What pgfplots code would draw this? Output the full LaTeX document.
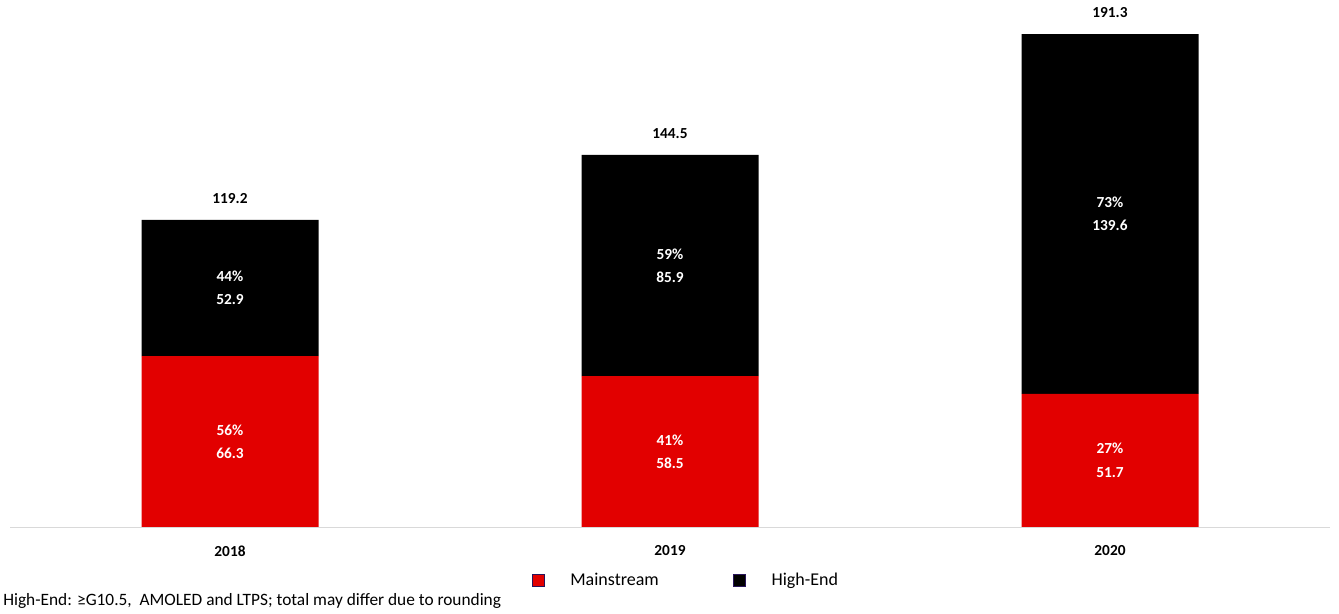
\documentclass[border=0pt]{standalone}
\usepackage{fontspec}
\setmainfont{Carlito}
\usepackage{pgfplots}
\pgfplotsset{compat=1.18}
\usepackage{pgfplotstable}
\definecolor{msred}{RGB}{226,0,0}
\definecolor{edgeblue}{RGB}{40,20,90}

\pgfplotstableread{
x low high total plow phigh
0 66.3 52.9 119.2 56 44
1 58.5 85.9 144.5 41 59
2 51.7 139.6 191.3 27 73
}\data

\pgfplotsset{
  frame/.style={
    at={(7.5pt,65.25pt)}, anchor=south west,
    scale only axis, width=990pt, height=395.25pt,
    xmin=-0.5, xmax=2.5, ymin=0, ymax=204.5, clip=false,
    /pgf/number format/assume math mode=true},
  lab/.style={only marks, mark=none, draw=none,
    nodes near coords align={center},
    every node near coord/.append style={anchor=center, align=center, text=white, inner sep=0pt,
      font=\bfseries\fontsize{11.5}{17.5}\selectfont}},
}

\begin{document}
\begin{tikzpicture}
\path[use as bounding box] (0,0) rectangle (1004.25pt,460.5pt);
\begin{axis}[
  frame,
  ybar stacked, bar width=132.75pt,
  axis y line=none,
  axis x line*=bottom,
  x axis line style={draw=gray!30, -},
  xtick={0,1,2}, xticklabels={2018,2019,2020},
  major tick length=0pt,
  xticklabel style={font=\bfseries\fontsize{11.5}{13}\selectfont, anchor=center, yshift=-18pt},
  legend style={at={(0.5125,-0.1006)}, anchor=center, draw=none, fill=none,
    legend columns=2, font=\fontsize{13.5}{16}\selectfont,
    /tikz/every odd column/.append style={column sep=17pt},
    /tikz/every even column/.append style={column sep=54pt}},
  legend image code/.code={\draw[#1, draw=edgeblue, line width=0.6pt] (0pt,-4.5pt) rectangle (9pt,4.5pt);},
]
\addplot[fill=msred, draw=none] table[x=x, y=low] {\data};
\addlegendentry{Mainstream}
\addplot[fill=black, draw=none] table[x=x, y=high] {\data};
\addlegendentry{High-End}
\node[anchor=west, font=\fontsize{13}{15}\selectfont, inner sep=0pt] at (rel axis cs:-0.0053,-0.1404)
  {High-End: ≥G10.5, \ AMOLED and LTPS; total may differ due to rounding};
\end{axis}
\begin{axis}[frame, hide axis]
\addplot[lab, point meta=explicit,
  visualization depends on={\thisrow{plow} \as \pp},
  nodes near coords={\pgfmathprintnumber[fixed,precision=0]{\pp}\%\\\pgfmathprintnumber[fixed,precision=1,fixed zerofill]{\pgfplotspointmeta}}]
  table[x=x, y expr=\thisrow{low}/2, meta=low] {\data};
\addplot[lab, point meta=explicit,
  visualization depends on={\thisrow{phigh} \as \pp},
  nodes near coords={\pgfmathprintnumber[fixed,precision=0]{\pp}\%\\\pgfmathprintnumber[fixed,precision=1,fixed zerofill]{\pgfplotspointmeta}}]
  table[x=x, y expr=\thisrow{low}+\thisrow{high}/2, meta=high] {\data};
\addplot[lab, point meta=explicit,
  every node near coord/.append style={text=black, yshift=16pt},
  nodes near coords={\pgfmathprintnumber[fixed,precision=1,fixed zerofill]{\pgfplotspointmeta}}]
  table[x=x, y expr=\thisrow{low}+\thisrow{high}, meta=total] {\data};
\end{axis}
\end{tikzpicture}
\end{document}
